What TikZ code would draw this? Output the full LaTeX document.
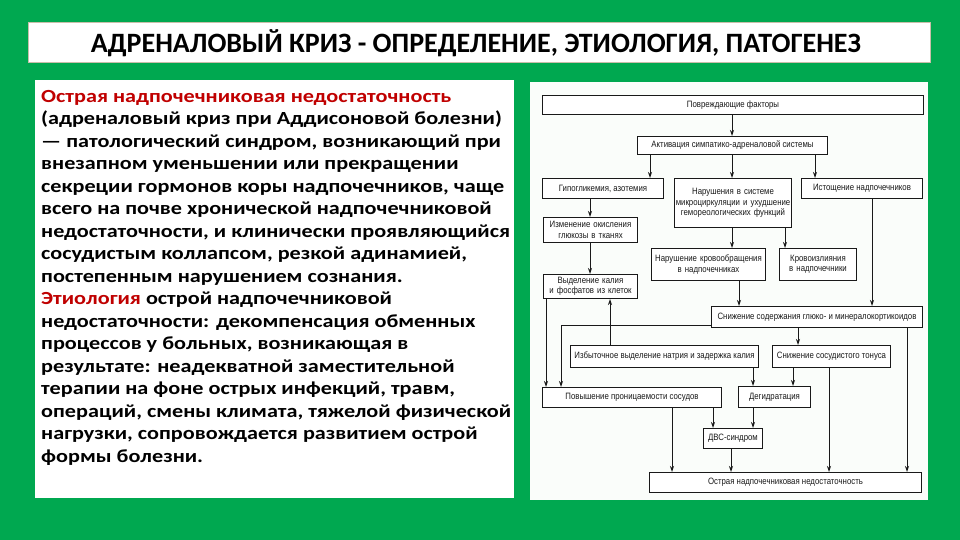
\documentclass[tikz,border=0pt]{standalone}
\usepackage{fontspec}
\setmainfont{Carlito}
\newfontfamily\widefont[FakeStretch=1.2]{Carlito}
\newfontfamily\chartfont[FakeStretch=0.85]{Liberation Sans}
\usetikzlibrary{arrows.meta,calc}
\definecolor{bggreen}{RGB}{0,168,80}
\definecolor{darkred}{RGB}{192,0,0}
\definecolor{inkgray}{RGB}{25,25,25}
\definecolor{panelwhite}{RGB}{250,253,250}
\tikzset{
  fbox/.style={draw=inkgray, line width=1pt, fill=white, inner sep=1pt, anchor=north west,
    font=\chartfont\fontsize{9.2}{10.3}\selectfont, text=inkgray, align=center},
  arr/.style={draw=inkgray, line width=0.9pt, -{Stealth[length=6pt,width=4pt]}},
}
\begin{document}
\begin{tikzpicture}[x=1pt,y=-1pt]
\useasboundingbox (0,0) rectangle (960,540);
\fill[bggreen] (0,0) rectangle (960,540);
% title
\node[draw={rgb,255:red,200;green,190;blue,170}, line width=0.6pt, fill=white, minimum width=902pt, minimum height=40pt, inner sep=0pt, anchor=north west] (titlebox) at (28,22) {};
\node[font=\bfseries\fontsize{28}{30}\selectfont] (title) at (476,43) {АДРЕНАЛОВЫЙ КРИЗ - ОПРЕДЕЛЕНИЕ, ЭТИОЛОГИЯ, ПАТОГЕНЕЗ};
% left panel
\node[fill=white, minimum width=479pt, minimum height=418pt, inner sep=0pt, anchor=north west] (leftpanel) at (35,80) {};
\node[anchor=north west, align=left, inner sep=0pt, font=\widefont\bfseries\fontsize{18.5}{22.5}\selectfont] (lefttext) at (41,90) {%
\textcolor{darkred}{Острая надпочечниковая недостаточность}\\
(адреналовый криз при Аддисоновой болезни)\\
— патологический синдром, возникающий при\\
внезапном уменьшении или прекращении\\
секреции гормонов коры надпочечников, чаще\\
всего на почве хронической надпочечниковой\\
недостаточности, и клинически проявляющийся\\
сосудистым коллапсом, резкой адинамией,\\
постепенным нарушением сознания.\\
\textcolor{darkred}{Этиология} острой надпочечниковой\\
недостаточности: декомпенсация обменных\\
процессов у больных, возникающая в\\
результате: неадекватной заместительной\\
терапии на фоне острых инфекций, травм,\\
операций, смены климата, тяжелой физической\\
нагрузки, сопровождается развитием острой\\
формы болезни.};
% right panel
\node[fill=panelwhite, minimum width=398pt, minimum height=418pt, inner sep=0pt, anchor=north west] (rightpanel) at (530,82) {};
% flowchart boxes
\node[fbox, minimum width=381pt, minimum height=19pt] (b1) at (542,95) {Повреждающие факторы};
\node[fbox, minimum width=190pt, minimum height=18pt] (b2) at (637,136) {Активация симпатико-адреналовой системы};
\node[fbox, minimum width=121pt, minimum height=20pt] (b3a) at (542,178) {Гипогликемия, азотемия};
\node[fbox, minimum width=117pt, minimum height=49pt, text width=115pt] (b3b) at (674,178) {Нарушения в системе\\микроциркуляции и ухудшение\\гемореологических функций};
\node[fbox, minimum width=121pt, minimum height=20pt] (b3c) at (801,178) {Истощение надпочечников};
\node[fbox, minimum width=94pt, minimum height=25pt, text width=92pt] (b4) at (543,217) {Изменение окисления\\глюкозы в тканях};
\node[fbox, minimum width=94pt, minimum height=24pt, text width=92pt] (b5) at (543,274) {Выделение калия\\и фосфатов из клеток};
\node[fbox, minimum width=114pt, minimum height=32pt, text width=112pt] (b6) at (651,248) {Нарушение кровообращения\\в надпочечниках};
\node[fbox, minimum width=77pt, minimum height=32pt, text width=75pt] (b7) at (779,248) {Кровоизлияния\\в надпочечники};
\node[fbox, minimum width=211pt, minimum height=21pt] (b8) at (711,306) {Снижение содержания глюко- и минералокортикоидов};
\node[fbox, minimum width=188pt, minimum height=22pt] (b9) at (570,345) {Избыточное выделение натрия и задержка калия};
\node[fbox, minimum width=118pt, minimum height=22pt] (b10) at (772,345) {Снижение сосудистого тонуса};
\node[fbox, minimum width=179pt, minimum height=20pt] (b11) at (542,387) {Повышение проницаемости сосудов};
\node[fbox, minimum width=72pt, minimum height=21pt] (b12) at (738,386) {Дегидратация};
\node[fbox, minimum width=59pt, minimum height=20pt] (b13) at (703,428) {ДВС-синдром};
\node[fbox, minimum width=272pt, minimum height=20pt] (b14) at (649,472) {Острая надпочечниковая недостаточность};
% helper x positions
\foreach \xx in {546,561,590,610,650,672,713,731,732,739,753,785,793,798,815,829,872,907}
  \coordinate (x\xx) at (\xx,0);
\coordinate (j1) at (711,325);
% connectors
\draw[arr] (b1.south -| x732) -- (b2.north -| x732);
\draw[arr] (b2.south -| x650) -- (b3a.north -| x650);
\draw[arr] (b2.south -| x732) -- (b3b.north -| x732);
\draw[arr] (b2.south -| x815) -- (b3c.north -| x815);
\draw[arr] (b3a.south -| x590) -- (b4.north -| x590);
\draw[arr] (b4.south -| x590) -- (b5.north -| x590);
\draw[arr] (b3b.south -| x732) -- (b6.north -| x732);
\draw[arr] (b3b.south -| x785) -- (b7.north -| x785);
\draw[arr] (b3c.south -| x872) -- (b8.north -| x872);
\draw[arr] (b6.south -| x739) -- (b8.north -| x739);
\draw[arr] (b5.south -| x546) -- (b11.north -| x546);
\draw[arr] (b9.north -| x610) -- (b5.south -| x610);
\draw[arr] (j1) -| (b11.north -| x561);
\draw[arr] (b8.south -| x798) -- (b10.north -| x798);
\draw[arr] (b8.south -| x907) -- (b14.north -| x907);
\draw[arr] (b9.south -| x753) -- (b12.north -| x753);
\draw[arr] (b10.south -| x793) -- (b12.north -| x793);
\draw[arr] (b10.south -| x829) -- (b14.north -| x829);
\draw[arr] (b11.south -| x713) -- (b13.north -| x713);
\draw[arr] (b12.south -| x753) -- (b13.north -| x753);
\draw[arr] (b11.south -| x672) -- (b14.north -| x672);
\draw[arr] (b13.south -| x731) -- (b14.north -| x731);
\end{tikzpicture}
\end{document}
